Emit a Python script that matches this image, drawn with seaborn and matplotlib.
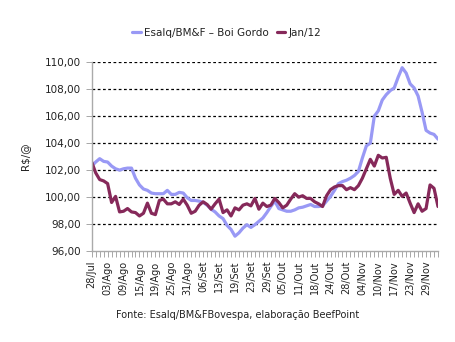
import numpy as np
import pandas as pd
import matplotlib
matplotlib.use("Agg")
import matplotlib.pyplot as plt
import seaborn as sns
from matplotlib.ticker import FuncFormatter, MultipleLocator

sns.set_style("white")
plt.rcParams['font.family'] = ['DejaVu Sans']

tick_labels = ["28/Jul", "03/Ago", "09/Ago", "15/Ago", "19/Ago", "25/Ago", "31/Ago",
               "06/Set", "13/Set", "19/Set", "23/Set", "29/Set", "05/Out", "11/Out",
               "18/Out", "24/Out", "28/Out", "04/Nov", "10/Nov", "17/Nov", "23/Nov", "29/Nov"]

esalq = [102.3, 102.6, 102.85, 102.65, 102.6, 102.3, 102.1, 102.0, 102.1, 102.15,
         102.15, 101.4, 100.9, 100.6, 100.5, 100.3, 100.25, 100.25, 100.25, 100.5,
         100.2, 100.2, 100.35, 100.3, 99.95, 99.75, 99.75, 99.7, 99.6, 99.4,
         99.1, 98.9, 98.6, 98.4, 97.9, 97.6, 97.1, 97.35, 97.7, 97.95,
         97.75, 97.95, 98.2, 98.45, 98.85, 99.3, 99.7, 99.15, 99.05, 98.95,
         98.95, 99.05, 99.2, 99.25, 99.35, 99.45, 99.3, 99.3, 99.35, 99.7,
         100.05, 100.5, 101.0, 101.15, 101.25, 101.4, 101.6, 101.9, 102.9, 103.8,
         104.0, 106.0, 106.4, 107.2, 107.6, 107.9, 108.1, 108.9, 109.6, 109.2,
         108.4, 108.1, 107.5, 106.3, 104.95, 104.75, 104.65, 104.3]

jan12 = [102.6, 101.8, 101.3, 101.2, 101.0, 99.6, 100.05, 98.9, 98.95, 99.15,
         98.9, 98.85, 98.6, 98.8, 99.55, 98.8, 98.7, 99.75, 99.85, 99.5,
         99.5, 99.65, 99.45, 99.85, 99.4, 98.8, 98.95, 99.4, 99.65, 99.45,
         99.1, 99.5, 99.85, 98.85, 99.05, 98.6, 99.2, 99.05, 99.4, 99.5,
         99.35, 99.9, 99.1, 99.55, 99.3, 99.4, 99.9, 99.6, 99.2, 99.4,
         99.85, 100.25, 100.0, 100.1, 99.9, 99.9, 99.65, 99.5, 99.3, 100.1,
         100.55, 100.75, 100.85, 100.85, 100.55, 100.7, 100.55, 100.85, 101.4, 102.1,
         102.8, 102.3, 103.1, 102.9, 102.95, 101.4, 100.2, 100.5, 100.05, 100.3,
         99.55, 98.85, 99.5, 98.95, 99.15, 100.9, 100.65, 99.3]

series_names = ["Esalq/BM&F – Boi Gordo", "Jan/12"]
colors = ["#9999F5", "#86295A"]

n = len(esalq)
df = pd.DataFrame({
    "idx": list(range(n)) * 2,
    "valor": esalq + jan12,
    "serie": [series_names[0]] * n + [series_names[1]] * n,
})

fig = plt.figure(figsize=(4.56, 3.42), dpi=100)
ax = fig.add_axes([91.7 / 456, 1 - 251 / 342, (438 - 91.7) / 456, (251 - 62.3) / 342])

sns.lineplot(data=df, x="idx", y="valor", hue="serie", palette=colors,
             linewidth=2.3, ax=ax, legend=True)

ax.set_xlim(0, n - 1)
ax.set_ylim(96, 110)
ax.yaxis.set_major_locator(MultipleLocator(2))
ax.yaxis.set_major_formatter(FuncFormatter(lambda v, p: f"{v:.2f}".replace(".", ",")))
ax.set_xticks(range(0, 4 * len(tick_labels), 4))
ax.set_xticklabels(tick_labels, rotation=90, fontsize=7, color="#222222")
ax.set_xticks(range(n), minor=True)
ax.tick_params(axis="x", which="both", direction="out", length=4, width=0.6,
               color="#999999", bottom=True, pad=3)
ax.tick_params(axis="y", which="major", direction="out", length=4, width=0.6,
               color="#999999", left=True, labelsize=7.5, labelcolor="#222222", pad=4)

for v in range(98, 111, 2):
    ax.axhline(v, color="black", linewidth=0.9, linestyle=(0, (2.2, 2.0)), zorder=0)

for s in ["top", "right"]:
    ax.spines[s].set_visible(False)
for s in ["left", "bottom"]:
    ax.spines[s].set_color("#aaaaaa")
    ax.spines[s].set_linewidth(1.0)

ax.set_xlabel("")
ax.set_ylabel("R$/@", fontsize=7.5, color="#222222", labelpad=10)

leg = ax.legend(loc="center", bbox_to_anchor=(0.39, 1.155), ncol=2, frameon=False,
                fontsize=7.5, handlelength=0.8, handletextpad=0.3, columnspacing=0.8,
                borderaxespad=0)
for t in leg.get_texts():
    t.set_color("#222222")

fig.text(237.5 / 456, 1 - 315 / 342, "Fonte: Esalq/BM&FBovespa, elaboração BeefPoint",
         ha="center", va="center", fontsize=7, color="#222222")

fig.savefig("out.png", dpi=100)
